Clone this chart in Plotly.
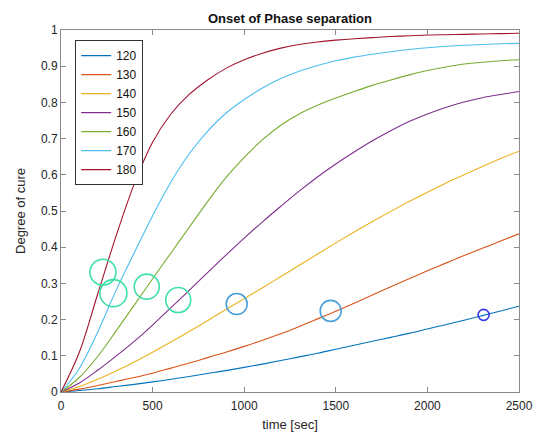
import plotly.graph_objects as go

# time grid (sec)
time_s = list(range(0, 2501, 100))

temps = ["120", "130", "140", "150", "160", "170", "180"]

cure_120 = [0, .004, .009, .015, .021, .028, .035, .043, .051, .059, .068, .077, .087, .097, .107, .118,
            .129, .140, .151, .162, .174, .186, .198, .211, .224, .237]
cure_130 = [0, .008, .018, .029, .040, .052, .066, .080, .095, .110, .126, .143, .161, .181, .202, .223,
            .245, .268, .291, .313, .335, .356, .377, .397, .417, .437]
cure_140 = [0, .015, .035, .058, .083, .110, .138, .167, .197, .228, .258, .288, .319, .350, .381, .412,
            .442, .471, .499, .526, .552, .577, .600, .623, .645, .665]
cure_150 = [0, .025, .060, .099, .140, .185, .233, .281, .330, .378, .425, .470, .513, .555, .594, .630,
            .663, .694, .722, .747, .768, .786, .801, .813, .822, .830]
cure_160 = [0, .040, .098, .168, .240, .313, .384, .455, .526, .592, .648, .697, .737, .768, .792, .812,
            .830, .847, .862, .876, .888, .898, .906, .911, .915, .918]
cure_170 = [0, .065, .165, .280, .385, .487, .580, .658, .720, .770, .808, .840, .866, .886, .902, .915,
            .925, .933, .940, .946, .951, .955, .958, .960, .962, .963]
cure_180 = [0, .110, .270, .430, .575, .690, .768, .822, .862, .894, .918, .936, .950, .960, .967, .972,
            .976, .979, .982, .984, .986, .987, .988, .989, .990, .991]

series = [cure_120, cure_130, cure_140, cure_150, cure_160, cure_170, cure_180]
colors = ["#0072BD", "#D95319", "#EDB120", "#7E2F8E", "#77AC30", "#4DBEEE", "#A2142F"]

# onset of phase separation markers
onset_t = [229, 286, 468, 640, 959, 1472, 2307]
onset_v = [0.331, 0.273, 0.291, 0.254, 0.243, 0.224, 0.213]
onset_size = [26, 27, 25, 25, 21, 21, 11]
onset_color = ["#3EE0A8", "#3EE0A8", "#3EE0A8", "#3EE0A8", "#4A9FD8", "#4A9FD8", "#3535E8"]

fig = go.Figure()
for name, ys, c in zip(temps, series, colors):
    fig.add_trace(go.Scatter(x=time_s, y=ys, mode="lines", name=name,
                             line=dict(color=c, width=1.1, shape="spline", smoothing=1.0)))

for t, v, s, c in zip(onset_t, onset_v, onset_size, onset_color):
    fig.add_trace(go.Scatter(x=[t], y=[v], mode="markers", showlegend=False,
                             marker=dict(symbol="circle-open", size=s,
                                         line=dict(color=c, width=1.6), color=c)))

axis_common = dict(showline=True, linecolor="#8a8a8a", linewidth=1, mirror="ticks",
                   ticks="inside", ticklen=5, tickcolor="#8a8a8a", showgrid=False,
                   zeroline=False, automargin=False,
                   tickfont=dict(family="Liberation Sans, Arial", size=12, color="#262626"))

fig.update_layout(
    width=537, height=433,
    margin=dict(l=61, r=18, t=30, b=41),
    paper_bgcolor="white", plot_bgcolor="white",
    title=dict(text="<b>Onset of Phase separation</b>", x=0.54, xanchor="center",
               y=0.957, yanchor="middle",
               font=dict(family="Liberation Sans, Arial", size=13, color="#111")),
    xaxis=dict(range=[0, 2500], tickvals=[0, 500, 1000, 1500, 2000, 2500],
               ticklabelstandoff=3,
               title=dict(text="time [sec]", standoff=7,
                          font=dict(family="Liberation Sans, Arial", size=13, color="#262626")),
               **axis_common),
    yaxis=dict(range=[0, 1], tickvals=[0, 0.1, 0.2, 0.3, 0.4, 0.5, 0.6, 0.7, 0.8, 0.9, 1],
               ticktext=["0", "0.1", "0.2", "0.3", "0.4", "0.5", "0.6", "0.7", "0.8", "0.9", "1"],
               title=dict(text="Degree of cure", standoff=12,
                          font=dict(family="Liberation Sans, Arial", size=13, color="#262626")),
               **axis_common),
    legend=dict(x=0.031, y=0.972, xanchor="left", yanchor="top",
                bgcolor="white", bordercolor="#333", borderwidth=1,
                font=dict(family="Liberation Sans, Arial", size=12, color="#111"),
                itemwidth=30, tracegroupgap=0),
    showlegend=True,
)

fig.write_html("out.html")
